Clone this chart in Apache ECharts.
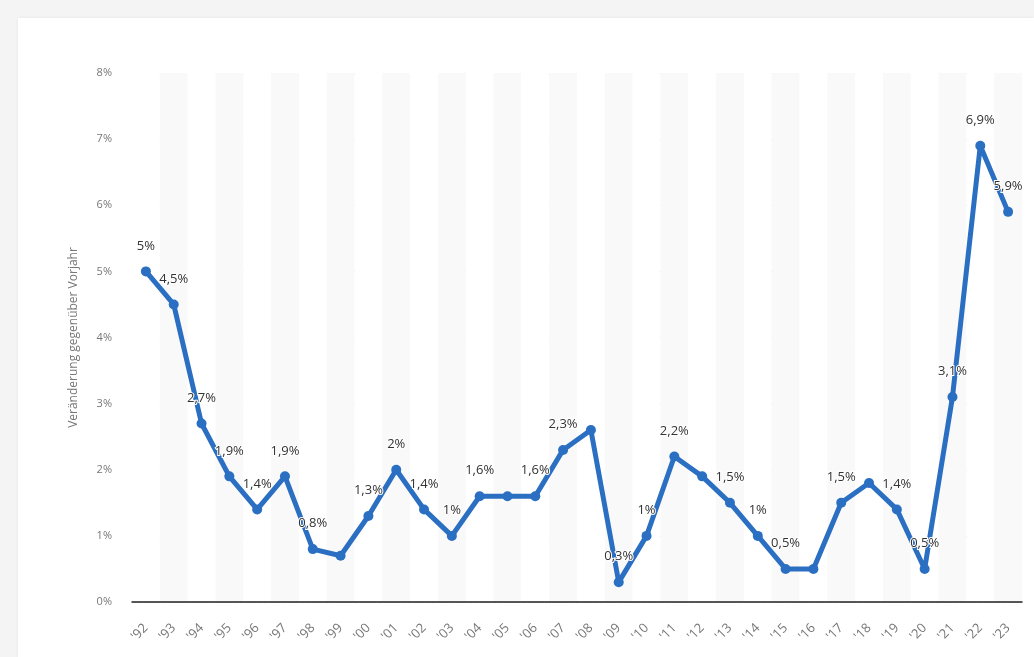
<!DOCTYPE html>
<html lang="de">
<head>
  <meta charset="UTF-8">
  <title>Veränderung gegenüber Vorjahr</title>
  <script src="https://cdn.jsdelivr.net/npm/echarts@6/dist/echarts.min.js"></script>
  <style>
    html, body { margin: 0; padding: 0; background: #f4f4f4; }
    #chart {
      position: absolute; left: 18px; top: 18px;
      width: 1016px; height: 639px;
      background: #fff;
      box-shadow: 0 0 4px rgba(0,0,0,0.06);
    }
  </style>
</head>
<body>
  <div id="chart"></div>
  <script>
    // Jahre ('92 bis '23)
    var years = ["'92","'93","'94","'95","'96","'97","'98","'99","'00","'01","'02","'03","'04","'05","'06","'07",
                 "'08","'09","'10","'11","'12","'13","'14","'15","'16","'17","'18","'19","'20","'21","'22","'23"];
    // Veränderung in %
    var values = [5.0, 4.5, 2.7, 1.9, 1.4, 1.9, 0.8, 0.7, 1.3, 2.0, 1.4, 1.0, 1.6, 1.6, 1.6, 2.3,
                  2.6, 0.3, 1.0, 2.2, 1.9, 1.5, 1.0, 0.5, 0.5, 1.5, 1.8, 1.4, 0.5, 3.1, 6.9, 5.9];
    // Jahre ohne Beschriftung (überdeckt)
    var hiddenLabels = ["'99","'05","'08","'12","'16","'18"];
    var yTicks = [0, 1, 2, 3, 4, 5, 6, 7, 8];

    function fmt(v) {
      return String(v).replace('.', ',') + '%';
    }

    var data = values.map(function (v, i) {
      return {
        value: v,
        label: { show: hiddenLabels.indexOf(years[i]) < 0 }
      };
    });

    var chart = echarts.init(document.getElementById('chart'));
    chart.setOption({
      animation: false,
      grid: { left: 114, right: 12, top: 55, bottom: 55 },
      xAxis: {
        type: 'category',
        data: years,
        boundaryGap: true,
        axisLine: { lineStyle: { color: '#222', width: 1.5 } },
        axisTick: { show: false },
        axisLabel: { rotate: 45, color: '#777', fontSize: 13, margin: 24, interval: 0, fontFamily: 'Open Sans' },
        splitArea: { show: true, areaStyle: { color: ['#ffffff', '#f9f9f9'] } }
      },
      yAxis: {
        type: 'value',
        min: yTicks[0],
        max: yTicks[yTicks.length - 1],
        interval: 1,
        name: 'Veränderung gegenüber Vorjahr',
        nameLocation: 'middle',
        nameGap: 52,
        nameTextStyle: { color: '#777', fontSize: 12, fontFamily: 'Open Sans' },
        axisLine: { show: false },
        axisTick: { show: false },
        axisLabel: { color: '#777', fontSize: 11, margin: 20, fontFamily: 'Open Sans', formatter: '{value}%' },
        splitLine: { lineStyle: { color: '#c8c8c8', type: [1, 2] } }
      },
      series: [{
        type: 'line',
        data: data,
        symbol: 'circle',
        symbolSize: 10,
        lineStyle: { color: '#2b6fc2', width: 5 },
        itemStyle: { color: '#2b6fc2' },
        label: {
          position: 'top',
          distance: 14,
          color: '#333',
          fontSize: 13,
          fontFamily: 'Open Sans',
          textBorderColor: '#fff',
          textBorderWidth: 2,
          formatter: function (p) { return fmt(p.value); }
        }
      }]
    });
  </script>
</body>
</html>
